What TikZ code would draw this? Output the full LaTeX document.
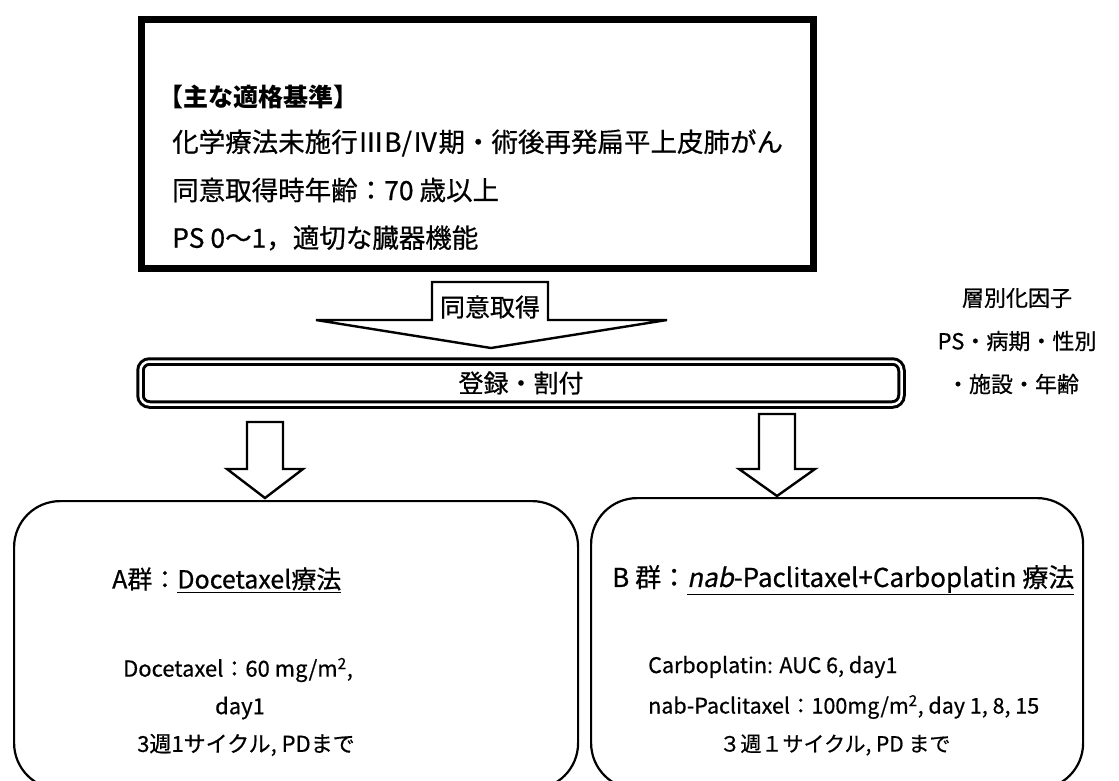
\documentclass[tikz,border=0pt]{standalone}
\usepackage{fontspec}
\setmainfont{Noto Sans CJK JP}[UprightFeatures={FakeBold=0.6},ItalicFont={Noto Sans CJK JP},ItalicFeatures={FakeSlant=0.2,FakeBold=0.6}]
\begin{document}
\begin{tikzpicture}[x=1pt,y=-1pt,
  thickbox/.style={draw,line width=6.5pt,inner sep=0pt},
  regbox/.style={draw,double,line width=3pt,double distance=2.5pt,rounded corners=9pt,inner sep=0pt},
  armbox/.style={draw,line width=2.2pt,rounded corners=46pt,inner sep=0pt},
  blockarrow/.style={draw,line width=2.4pt,fill=white,line join=miter},
  lt/.style={inner sep=0pt,anchor=west},
  ct/.style={inner sep=0pt,anchor=center}]
\useasboundingbox (0,0) rectangle (1119,780);
\begin{scope}
\clip (0,0) rectangle (1119,780);
% top criteria box
\node[thickbox,minimum width=672pt,minimum height=249pt,anchor=north west] (crit) at (138,16) {};
% registration box
\node[regbox,minimum width=761pt,minimum height=43pt] (reg) at (521,383) {};
% arm boxes
\node[armbox,minimum width=564pt,minimum height=288pt,anchor=north west] (armA) at (13,500) {};
\node[armbox,minimum width=492pt,minimum height=291pt,anchor=north west] (armB) at (590,497) {};
\end{scope}
% texts top box
\node[lt,font=\fontsize{25}{25}\selectfont\bfseries] (t0) at (158,97) {【主な適格基準】};
\node[lt,font=\fontsize{26.5}{26.5}\selectfont] (t1) at (172,143) {化学療法未施行ⅢB/Ⅳ期・術後再発扁平上皮肺がん};
\node[lt,font=\fontsize{26.5}{26.5}\selectfont] (t2) at (172,190) {同意取得時年齢：70 歳以上};
\node[lt,font=\fontsize{26.5}{26.5}\selectfont] (t3) at (172,238) {PS 0〜1，適切な臓器機能};
% consent arrow
\draw[blockarrow] (432,282) -- (548,282) -- (548,320) -- (667,320) -- (491,348) -- (316,320) -- (432,320) -- cycle;
\node[ct,font=\fontsize{25}{25}\selectfont] (cons) at (490,307) {同意取得};
\node[ct,font=\fontsize{25}{25}\selectfont] (regt) at (reg.center) {登録・割付};
% stratification
\node[ct,font=\fontsize{22}{22}\selectfont] (s1) at (1017,298) {層別化因子};
\node[ct,font=\fontsize{22}{22}\selectfont] (s2) at (1017,341) {PS・病期・性別};
\node[ct,font=\fontsize{22}{22}\selectfont] (s3) at (1013,384) {・施設・年齢};
% arm arrows
\draw[blockarrow] (247,422) -- (283,422) -- (283,469) -- (303,469) -- (265,498) -- (227,469) -- (247,469) -- cycle;
\draw[blockarrow] (759,414) -- (795,414) -- (795,469) -- (815,469) -- (777,496) -- (739,469) -- (759,469) -- cycle;
% arm A text
\node[lt,font=\fontsize{25}{25}\selectfont] (a0) at (112,580) {A群：\underline{Docetaxel療法}};
\node[ct,font=\fontsize{22}{22}\selectfont] (a1) at (238,670) {Docetaxel：60 mg/m\textsuperscript{2},};
\node[ct,font=\fontsize{22}{22}\selectfont] (a2) at (240,708) {day1};
\node[ct,font=\fontsize{22}{22}\selectfont] (a3) at (246,745) {3週1サイクル, PDまで};
% arm B text
\node[lt,font=\fontsize{26}{26}\selectfont] (b0) at (612,580) {B 群：\underline{\textit{nab}-Paclitaxel+Carboplatin 療法}};
\node[lt,font=\fontsize{21.5}{21.5}\selectfont] (b1) at (648,667) {Carboplatin: AUC 6, day1};
\node[lt,font=\fontsize{21.5}{21.5}\selectfont] (b2) at (648,707) {nab-Paclitaxel：100mg/m\textsuperscript{2}, day 1, 8, 15};
\node[ct,font=\fontsize{21}{21}\selectfont] (b3) at (835,745) {３週１サイクル, PD まで};
\end{tikzpicture}
\end{document}
